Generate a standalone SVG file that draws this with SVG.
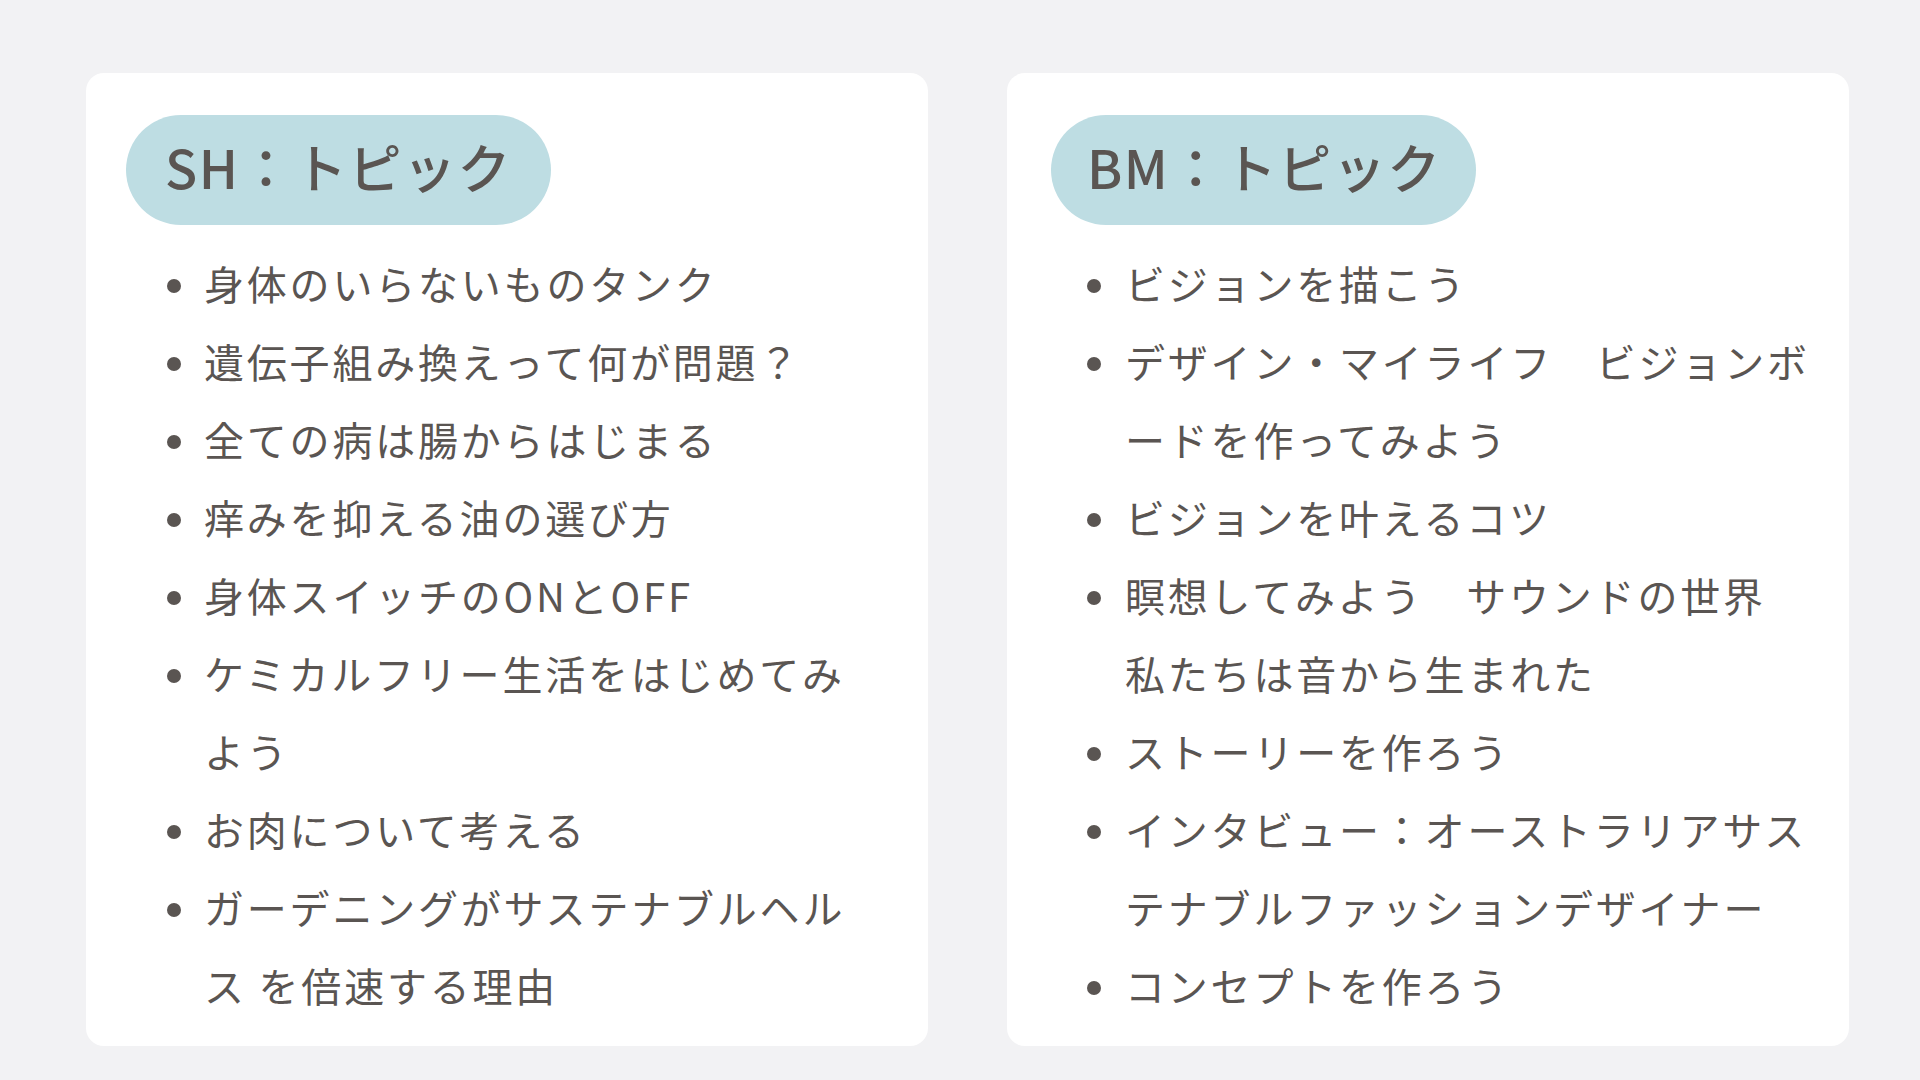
<svg xmlns="http://www.w3.org/2000/svg" width="1920" height="1080" viewBox="0 0 1920 1080">
<style>
.card{fill:#ffffff}
.pill{fill:#bedde3}
.title{font-family:"Noto Sans CJK JP","Noto Sans",sans-serif;font-size:53px;font-weight:500;fill:#5a5552;letter-spacing:1.5px}
.item{font-family:"Noto Sans CJK JP","Noto Sans",sans-serif;font-size:40px;fill:#5a5552;letter-spacing:2.8px}
.dot{fill:#5a5552}
</style>
<rect width="1920" height="1080" fill="#f2f2f4"/>
<g id="card-sh">
<rect class="card" x="86" y="73" width="842" height="973" rx="18"/>
<rect class="pill" x="126" y="115" width="425" height="110" rx="55"/>
<text class="title" x="165" y="189">SH：トピック</text>
<circle class="dot" cx="174" cy="286" r="7"/>
<text class="item" x="204" y="300">身体のいらないものタンク</text>
<circle class="dot" cx="174" cy="364" r="7"/>
<text class="item" x="204" y="378">遺伝子組み換えって何が問題？</text>
<circle class="dot" cx="174" cy="442" r="7"/>
<text class="item" x="204" y="456">全ての病は腸からはじまる</text>
<circle class="dot" cx="174" cy="520" r="7"/>
<text class="item" x="204" y="534">痒みを抑える油の選び方</text>
<circle class="dot" cx="174" cy="598" r="7"/>
<text class="item" x="204" y="612">身体スイッチのONとOFF</text>
<circle class="dot" cx="174" cy="676" r="7"/>
<text class="item" x="204" y="690">ケミカルフリー生活をはじめてみ</text>
<text class="item" x="204" y="768">よう</text>
<circle class="dot" cx="174" cy="832" r="7"/>
<text class="item" x="204" y="846">お肉について考える</text>
<circle class="dot" cx="174" cy="910" r="7"/>
<text class="item" x="204" y="924">ガーデニングがサステナブルヘル</text>
<text class="item" x="204" y="1002" xml:space="preserve">ス を倍速する理由</text>
</g>
<g id="card-bm">
<rect class="card" x="1007" y="73" width="842" height="973" rx="18"/>
<rect class="pill" x="1051" y="115" width="425" height="110" rx="55"/>
<text class="title" x="1087" y="189">BM：トピック</text>
<circle class="dot" cx="1094" cy="286" r="7"/>
<text class="item" x="1125" y="300">ビジョンを描こう</text>
<circle class="dot" cx="1094" cy="364" r="7"/>
<text class="item" x="1125" y="378">デザイン・マイライフ　ビジョンボ</text>
<text class="item" x="1125" y="456">ードを作ってみよう</text>
<circle class="dot" cx="1094" cy="520" r="7"/>
<text class="item" x="1125" y="534">ビジョンを叶えるコツ</text>
<circle class="dot" cx="1094" cy="598" r="7"/>
<text class="item" x="1125" y="612">瞑想してみよう　サウンドの世界</text>
<text class="item" x="1125" y="690">私たちは音から生まれた</text>
<circle class="dot" cx="1094" cy="754" r="7"/>
<text class="item" x="1125" y="768">ストーリーを作ろう</text>
<circle class="dot" cx="1094" cy="832" r="7"/>
<text class="item" x="1125" y="846">インタビュー：オーストラリアサス</text>
<text class="item" x="1125" y="924">テナブルファッションデザイナー</text>
<circle class="dot" cx="1094" cy="988" r="7"/>
<text class="item" x="1125" y="1002">コンセプトを作ろう</text>
</g>
</svg>
